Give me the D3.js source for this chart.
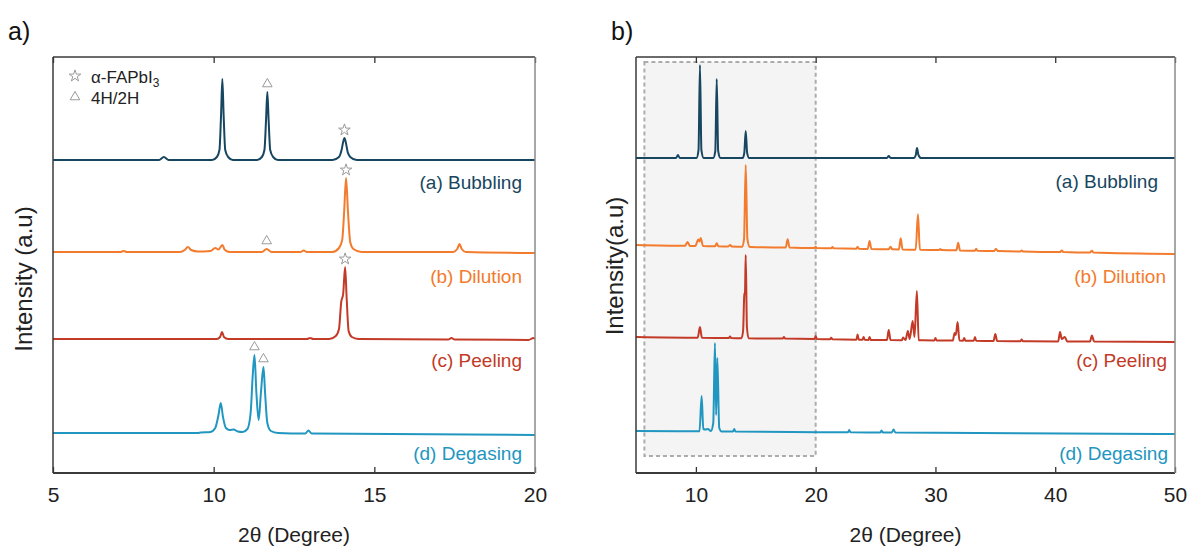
<!DOCTYPE html>
<html>
<head>
<meta charset="utf-8">
<script src="https://cdn.jsdelivr.net/npm/d3@7"></script>
<style>
  body { margin: 0; background: #fff; }
  text { font-family: "Liberation Sans", Arial, sans-serif; }
</style>
</head>
<body>
<svg id="chart" width="1189" height="548"></svg>
<script>
// sample names + colours
var samples = ["(a) Bubbling", "(b) Dilution", "(c) Peeling", "(d) Degasing"];
var colors = ["#174660", "#f37b2d", "#c33a27", "#2196c0"];

// panel a: 2theta 5-20, intensity above each stack offset (a.u.)
var bubblingA = [[5,0],[8.3,0],[8.45,3],[8.6,0],[9.95,0],[10.1,3],[10.18,10],[10.23,45],[10.27,81],[10.31,45],[10.36,10],[10.45,3],[10.6,0],
  [11.35,0],[11.5,3],[11.58,10],[11.63,40],[11.67,68],[11.71,40],[11.76,10],[11.85,3],[12,0],
  [13.7,0],[13.9,3],[13.98,10],[14.03,18],[14.07,22],[14.11,18],[14.17,8],[14.25,3],[14.45,0],[20,0]];
var dilutionA = [[5,0],[7.1,0],[7.2,1],[7.3,0],[8.95,0],[9.1,2],[9.2,5],[9.3,2],[9.5,0.5],[9.9,1],[10.05,4],[10.15,2.5],[10.27,7],[10.35,2],[10.5,0],
  [11.5,0],[11.65,3],[11.8,0],[12.7,0],[12.8,1.5],[12.9,0],[13.7,0],[13.9,4],[14.0,12],[14.06,40],[14.12,74],[14.18,40],[14.25,10],[14.35,3],[14.6,0],
  [17.45,0],[17.58,3],[17.65,8],[17.72,3],[17.85,0],[20,-1]];
var peelingA = [[5,0],[10.1,0],[10.2,2],[10.26,7],[10.32,2],[10.45,0],[12.9,0],[13.0,1],[13.1,0],[13.6,0],[13.8,3],[13.9,10],[13.97,37],[14.03,45],
  [14.09,72],[14.14,40],[14.2,8],[14.3,2],[14.5,0],[17.3,-0.5],[17.4,1],[17.5,-0.5],[19.8,-1],[19.95,1],[20,0]];
var degasingA = [[5,0],[9.5,0],[9.6,0.5],[9.9,1],[10.05,5],[10.15,18],[10.22,30],[10.29,16],[10.38,5],[10.5,3],[10.62,3.5],[10.75,1.5],[10.9,1],
  [11.05,4],[11.15,20],[11.22,60],[11.27,78],[11.33,40],[11.4,13],[11.47,40],[11.55,66],[11.6,40],[11.67,10],[11.78,2],[12,0],
  [12.85,-0.5],[12.95,2.5],[13.05,-0.5],[20,-2]];

// panel b: 2theta 5-50
var bubblingB = [[5,0],[8.35,0],[8.5,3],[8.65,0],[10.05,0],[10.22,8],[10.34,93],[10.46,8],[10.65,0],[11.45,0],[11.62,7],[11.74,79],[11.86,7],[12.05,0],
  [13.9,0],[14.04,5],[14.16,27],[14.28,5],[14.45,0],[25.95,0],[26.1,2],[26.25,0],[28.2,0],[28.36,3],[28.46,10],[28.58,3],[28.8,0],[50,0]];
var dilutionB = [[5,0],[9.1,-0.8],[9.3,3],[9.5,-0.9],[9.95,-1],[10.2,5.5],[10.3,3.5],[10.4,7],[10.6,-1],[11.6,-1.3],[11.74,1.7],[11.88,-1.3],
  [12.7,-1.5],[12.85,0],[13,-1.5],[13.85,-1.8],[14.02,6],[14.16,80],[14.3,6],[14.5,-1.9],[17.5,-2.5],[17.66,5.7],[17.82,-2.5],
  [19.9,-3],[20,-1.8],[20.1,-3],[21.3,-3.3],[21.4,-2],[21.5,-3.3],[23.4,-3.7],[23.5,-1.7],[23.6,-3.7],[24.35,-3.9],[24.5,4],[24.65,-3.9],
  [26.1,-4.2],[26.25,-1.7],[26.4,-4.3],[26.95,-4.4],[27.1,6.7],[27.25,-4.4],[28.35,-4.7],[28.54,30.7],[28.7,-4.7],[30.3,-5],[30.4,-4],[30.5,-5],
  [31.75,-5.3],[31.9,2.3],[32.05,-5.4],[33.3,-5.7],[33.4,-3.7],[33.5,-5.7],[34.9,-6],[35.05,-4],[35.2,-6],[37.1,-6.4],[37.2,-5.4],[37.3,-6.4],
  [40.4,-7.1],[40.55,-5.5],[40.7,-7.1],[42.9,-7.6],[43.06,-5.8],[43.2,-7.6],[50,-9]];
var peelingB = [[5,0],[10.15,-0.7],[10.34,10],[10.5,-0.7],[12.75,-1],[12.85,0.5],[12.95,-1],[13.8,-1.2],[13.94,6],[14.04,42],[14.1,45],[14.16,82],
  [14.26,10],[14.4,-1.2],[17.25,-1.6],[17.35,0],[17.45,-1.6],[19.9,-2],[20,1],[20.1,-2],[21.2,-2.3],[21.3,-0.8],[21.4,-2.3],
  [23.4,-2.7],[23.5,2.5],[23.6,-2.7],[23.9,-2.8],[24,0],[24.1,-2.8],[24.4,-2.9],[24.5,0],[24.6,-2.9],[25.95,-3.1],[26.1,7],[26.25,-3.1],
  [27.2,-3.2],[27.3,-0.5],[27.5,-3],[27.7,6],[27.85,-2],[28.1,16],[28.25,0],[28.45,46],[28.6,-3.3],[29.9,-3.4],[30,-1],[30.1,-3.4],
  [31.45,-3.6],[31.6,4],[31.7,2],[31.85,15],[32,-3.6],[32.3,-3.7],[32.4,-1],[32.5,-3.7],[33.2,-3.8],[33.3,0],[33.4,-3.8],
  [34.85,-4],[35,3],[35.15,-4],[37.1,-4.2],[37.2,-2.5],[37.3,-4.2],[40.25,-4.4],[40.4,5],[40.55,-2],[40.8,0],[41,-4.4],
  [42.9,-4.6],[43.06,1.5],[43.25,-4.6],[50,-5]];
var degasingB = [[5,0],[10.3,-0.3],[10.48,35],[10.62,2],[10.8,1.5],[11,2],[11.25,0],[11.45,8],[11.59,88],[11.69,16],[11.79,73],[11.95,3],[12.15,-0.5],
  [13.1,-0.5],[13.2,2],[13.3,-0.5],[22.7,-1.2],[22.8,1],[22.9,-1.2],[25.4,-1.4],[25.5,0.5],[25.6,-1.4],[26.35,-1.5],[26.5,1.5],[26.65,-1.5],[50,-3]];

// vertical stacking offsets
var offsetsA = [313, 221, 134, 40];
var offsetsB = [315, 228, 136, 42];

var ticksA = [5, 10, 15, 20];
var ticksB = [10, 20, 30, 40, 50];

// phase markers (panel a only)
var markers = [
  { s: 0, x: 11.67, type: "tri" }, { s: 0, x: 14.07, type: "star" },
  { s: 1, x: 14.12, type: "star" }, { s: 1, x: 11.65, type: "tri" },
  { s: 2, x: 14.09, type: "star" },
  { s: 3, x: 11.27, type: "tri" }, { s: 3, x: 11.55, type: "tri" }
];
var legendItems = [{ type: "star", label: "α-FAPbI", sub: "3" }, { type: "tri", label: "4H/2H" }];

var svg = d3.select("#chart");
var markerGray = "#9a9a9a";

function symbolPath(type) {
  if (type == "star") return d3.symbol().type(d3.symbolStar).size(42)();
  return d3.symbol().type(d3.symbolTriangle).size(40)();
}

function drawPanel(cfg) {
  var x = d3.scaleLinear().domain(cfg.domain).range([cfg.left, cfg.right]);
  var y = d3.scaleLinear().domain([0, 416]).range([cfg.bottom, cfg.top]);
  var g = svg.append("g");

  if (cfg.highlight) {
    g.append("rect")
      .attr("x", x(cfg.highlight[0]))
      .attr("y", cfg.top + 5)
      .attr("width", x(cfg.highlight[1]) - x(cfg.highlight[0]))
      .attr("height", cfg.bottom - cfg.top - 22)
      .attr("fill", "#f4f4f4")
      .attr("stroke", "#acacac")
      .attr("stroke-width", 2)
      .attr("stroke-dasharray", "4,3");
  }

  g.append("defs").append("clipPath").attr("id", cfg.id + "clip")
    .append("rect")
    .attr("x", cfg.left).attr("y", cfg.top)
    .attr("width", cfg.right - cfg.left).attr("height", cfg.bottom - cfg.top);

  var lines = g.append("g").attr("clip-path", "url(#" + cfg.id + "clip)");
  cfg.series.forEach(function (data, i) {
    var line = d3.line()
      .curve(d3.curveMonotoneX)
      .x(function (d) { return x(d[0]); })
      .y(function (d) { return y(cfg.offsets[i] + d[1]); });
    lines.append("path")
      .datum(data.filter(function (d) { return d[0] <= cfg.domain[1]; }))
      .attr("d", line)
      .attr("fill", "none")
      .attr("stroke", colors[i])
      .attr("stroke-width", 2)
      .attr("stroke-linejoin", "round");
  });

  // sample labels
  samples.forEach(function (name, i) {
    g.append("text")
      .attr("x", cfg.labelX[i])
      .attr("y", cfg.labelY[i])
      .attr("text-anchor", "end")
      .attr("font-size", 19)
      .attr("fill", colors[i])
      .text(name);
  });

  // axes
  var bottom = g.append("g")
    .attr("transform", "translate(0," + cfg.bottom + ")")
    .call(d3.axisBottom(x).tickValues(cfg.ticks).tickSizeInner(-6).tickSizeOuter(0).tickPadding(14));
  bottom.select(".domain").remove();
  bottom.selectAll("text").attr("font-size", 21).attr("fill", "#222").style("font-family", "Liberation Sans, Arial, sans-serif");
  bottom.selectAll("line").attr("stroke", "#333").attr("stroke-width", 1.3);

  var top = g.append("g")
    .attr("transform", "translate(0," + cfg.top + ")")
    .call(d3.axisTop(x).tickValues(cfg.ticks).tickSize(-6).tickFormat(""));
  top.select(".domain").remove();
  top.selectAll("line").attr("stroke", "#333").attr("stroke-width", 1.3);

  // frame
  g.append("line").attr("x1", cfg.left).attr("x2", cfg.right).attr("y1", cfg.top).attr("y2", cfg.top)
    .attr("stroke", "#3a3a3a").attr("stroke-width", 1.5);
  g.append("line").attr("x1", cfg.left).attr("x2", cfg.right).attr("y1", cfg.bottom).attr("y2", cfg.bottom)
    .attr("stroke", "#3a3a3a").attr("stroke-width", 1.8);
  g.append("line").attr("x1", cfg.left).attr("x2", cfg.left).attr("y1", cfg.top).attr("y2", cfg.bottom)
    .attr("stroke", "#3a3a3a").attr("stroke-width", 1.5);
  g.append("line").attr("x1", cfg.right).attr("x2", cfg.right).attr("y1", cfg.top).attr("y2", cfg.bottom)
    .attr("stroke", "#8a8a8a").attr("stroke-width", 1.5);

  g.append("text")
    .attr("x", (cfg.left + cfg.right) / 2)
    .attr("y", 542)
    .attr("text-anchor", "middle")
    .attr("font-size", 21)
    .attr("fill", "#222")
    .text("2θ (Degree)");

  g.append("text")
    .attr("transform", "translate(" + cfg.yTitleX + "," + cfg.yTitleY + ") rotate(-90)")
    .attr("text-anchor", "middle")
    .attr("font-size", 24)
    .attr("fill", "#222")
    .text(cfg.yTitle);

  g.append("text")
    .attr("x", cfg.letterX)
    .attr("y", 40)
    .attr("font-size", 25)
    .attr("fill", "#111")
    .text(cfg.letter);

  return { x: x, y: y, g: g };
}

var pa = drawPanel({
  id: "pa", left: 53, right: 535, top: 57, bottom: 473,
  domain: [5, 20], ticks: ticksA,
  series: [bubblingA, dilutionA, peelingA, degasingA], offsets: offsetsA,
  labelX: [522, 522, 522, 522], labelY: [189, 283, 367, 460],
  yTitle: "Intensity (a.u)", yTitleX: 32, yTitleY: 279,
  letter: "a)", letterX: 8
});

var pb = drawPanel({
  id: "pb", left: 636, right: 1175, top: 57, bottom: 473,
  domain: [5, 50], ticks: ticksB, highlight: [5.7, 20],
  series: [bubblingB, dilutionB, peelingB, degasingB], offsets: offsetsB,
  labelX: [1158, 1166, 1167, 1168], labelY: [188, 283, 367, 460],
  yTitle: "Intensity(a.u)", yTitleX: 623, yTitleY: 266,
  letter: "b)", letterX: 611
});

// markers above peaks in panel a
var seriesA = [bubblingA, dilutionA, peelingA, degasingA];
markers.forEach(function (m) {
  var h = d3.max(seriesA[m.s].filter(function (d) { return Math.abs(d[0] - m.x) < 0.03; }), function (d) { return d[1]; });
  pa.g.append("path")
    .attr("d", symbolPath(m.type))
    .attr("transform", "translate(" + pa.x(m.x) + "," + (pa.y(offsetsA[m.s] + h) - 8) + ")")
    .attr("fill", "#fff")
    .attr("stroke", markerGray)
    .attr("stroke-width", 1);
});

// legend
legendItems.forEach(function (item, i) {
  var ly = 76 + i * 21;
  pa.g.append("path")
    .attr("d", symbolPath(item.type))
    .attr("transform", "translate(75," + ly + ")")
    .attr("fill", "#fff")
    .attr("stroke", markerGray)
    .attr("stroke-width", 1);
  var t = pa.g.append("text")
    .attr("x", 91)
    .attr("y", ly + 7)
    .attr("font-size", 17)
    .attr("fill", "#222")
    .text(item.label);
  if (item.sub) {
    t.append("tspan").attr("dy", 4).attr("font-size", 12).text(item.sub);
  }
});
</script>
</body>
</html>
